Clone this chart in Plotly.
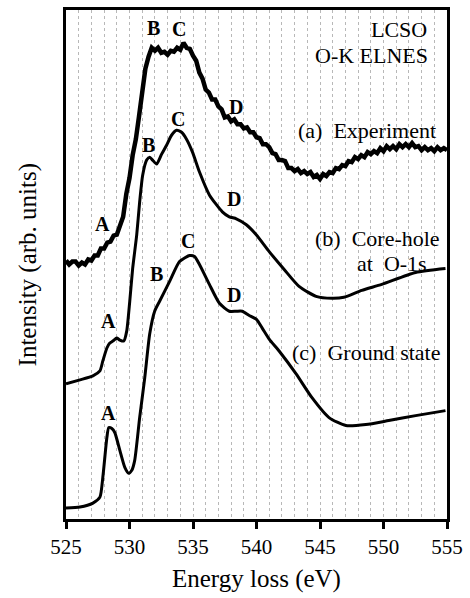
import plotly.graph_objects as go

# ---------------- data ----------------
# (a) Experiment (noisy spectrum), energy in eV, intensity in arb. units
exp_energy = [
    525.00, 525.25, 525.50, 525.75, 526.00, 526.25, 526.50, 526.75, 527.00, 527.25,
    527.50, 527.75, 528.00, 528.25, 528.50, 528.75, 529.00, 529.25, 529.50, 529.75,
    530.00, 530.25, 530.50, 530.75, 531.00, 531.25, 531.50, 531.75, 532.00, 532.25,
    532.50, 532.75, 533.00, 533.25, 533.50, 533.75, 534.00, 534.25, 534.50, 534.75,
    535.00, 535.25, 535.50, 535.75, 536.00, 536.25, 536.50, 536.75, 537.00, 537.25,
    537.50, 537.75, 538.00, 538.25, 538.50, 538.75, 539.00, 539.25, 539.50, 539.75,
    540.00, 540.25, 540.50, 540.75, 541.00, 541.25, 541.50, 541.75, 542.00, 542.25,
    542.50, 542.75, 543.00, 543.25, 543.50, 543.75, 544.00, 544.25, 544.50, 544.75,
    545.00, 545.25, 545.50, 545.75, 546.00, 546.25, 546.50, 546.75, 547.00, 547.25,
    547.50, 547.75, 548.00, 548.25, 548.50, 548.75, 549.00, 549.25, 549.50, 549.75,
    550.00, 550.25, 550.50, 550.75, 551.00, 551.25, 551.50, 551.75, 552.00, 552.25,
    552.50, 552.75, 553.00, 553.25, 553.50, 553.75, 554.00, 554.25, 554.50, 554.75,
    555.00,
]
exp_intensity = [
    260, 256, 259, 259, 255, 258, 256, 261, 260, 265,
    265, 272, 272, 278, 279, 285, 286, 294, 304, 327,
    343, 366, 382, 405, 428, 453, 465, 474, 471, 474,
    469, 470, 467, 471, 470, 474, 472, 479, 474, 473,
    466, 461, 449, 443, 432, 429, 422, 422, 415, 412,
    404, 405, 400, 402, 397, 397, 393, 394, 389, 389,
    384, 383, 377, 377, 374, 368, 367, 361, 361, 360,
    353, 353, 350, 352, 348, 350, 347, 349, 344, 346,
    342, 347, 345, 349, 348, 353, 352, 356, 355, 360,
    359, 364, 362, 366, 364, 369, 367, 370, 368, 373,
    370, 375, 372, 375, 372, 377, 374, 377, 374, 378,
    374, 375, 371, 374, 371, 373, 370, 374, 371, 373,
    371,
]

# (b) Core-hole at O-1s
core_energy = [
    525.0, 526.1, 527.12, 527.67, 527.9, 528.22, 528.45, 528.69, 529.0, 529.24,
    529.55, 529.78, 530.02, 530.25, 530.57, 530.8, 531.04, 531.35, 531.59, 531.82,
    532.14, 532.53, 532.92, 533.31, 533.71, 534.1, 534.49, 534.96, 535.51, 536.29,
    537.31, 537.86, 538.41, 539.2, 539.98, 541.0, 542.18, 543.35, 544.69, 545.94,
    546.88, 548.29, 549.86, 552.53, 554.88,
]
core_intensity = [
    136, 140, 144, 149, 159, 172, 177, 179, 182, 180,
    179, 189, 219, 252, 286, 319, 346, 361, 364, 361,
    357, 367, 376, 386, 391, 389, 382, 369, 349, 326,
    309, 304, 302, 296, 286, 269, 251, 234, 224, 222,
    223, 230, 236, 248, 252,
]

# (c) Ground state
ground_energy = [
    525.0, 526.1, 527.12, 527.67, 527.9, 528.22, 528.37, 528.61, 528.84, 529.24,
    529.63, 529.94, 530.18, 530.41, 530.8, 531.2, 531.59, 531.98, 532.37, 533.16,
    533.94, 534.73, 535.12, 535.51, 536.29, 537.08, 537.86, 538.41, 538.88, 539.4,
    539.98, 540.45, 541.0, 541.78, 543.12, 544.37, 545.71, 547.04, 548.61, 550.41,
    552.53, 554.88,
]
ground_intensity = [
    11, 12, 16, 22, 42, 82, 92, 91, 87, 69,
    52, 46, 49, 59, 102, 142, 186, 209, 219, 239,
    259, 265, 264, 256, 236, 217, 209, 209, 209, 205,
    201, 192, 181, 169, 146, 122, 102, 94, 95, 99,
    104, 109,
]

# peak labels: (letter, energy, intensity)
peak_letters = ["A", "B", "C", "D",
                "A", "B", "C", "D",
                "A", "B", "C", "D"]
peak_energy = [527.9, 531.9, 533.86, 538.41,
               528.37, 531.5, 533.78, 538.25,
               528.37, 532.14, 534.57, 538.25]
peak_intensity = [297, 494, 493, 414,
                  199, 376, 402, 322,
                  107, 246, 280, 225]

# right-side texts: (text, energy of right edge, intensity)
side_text = ["LCSO", "O-K ELNES", "(a)  Experiment", "(b)  Core-hole", "at  O-1s", "(c)  Ground state"]
side_energy = [553.55, 553.7, 554.33, 554.57, 553.55, 554.57]
side_intensity = [492, 466, 391, 282, 257, 167]

x_ticks = [525, 530, 535, 540, 545, 550, 555]

# ---------------- figure ----------------
FONT = "Liberation Serif"

fig = go.Figure()
fig.add_trace(go.Scatter(x=exp_energy, y=exp_intensity, mode="lines",
                         line=dict(color="black", width=4.5), showlegend=False))
fig.add_trace(go.Scatter(x=core_energy, y=core_intensity, mode="lines",
                         line=dict(color="black", width=3, shape="spline", smoothing=0.6),
                         showlegend=False))
fig.add_trace(go.Scatter(x=ground_energy, y=ground_intensity, mode="lines",
                         line=dict(color="black", width=3, shape="spline", smoothing=0.6),
                         showlegend=False))

annotations = []
for t, xe, yi in zip(peak_letters, peak_energy, peak_intensity):
    annotations.append(dict(x=xe, y=yi, xref="x", yref="y", text="<b>%s</b>" % t,
                            showarrow=False, font=dict(family=FONT, size=20, color="black"),
                            xanchor="center", yanchor="middle"))
for t, xe, yi in zip(side_text, side_energy, side_intensity):
    annotations.append(dict(x=xe, y=yi, xref="x", yref="y", text=t.replace("  ", "&nbsp;&nbsp;"),
                            showarrow=False, font=dict(family=FONT, size=22, color="black"),
                            xanchor="right", yanchor="middle"))
# axis titles
annotations.append(dict(x=0.5, y=-0.118, xref="paper", yref="paper", text="Energy loss (eV)",
                        showarrow=False, font=dict(family=FONT, size=25, color="black"),
                        xanchor="center", yanchor="middle"))
annotations.append(dict(x=-0.1, y=0.5, xref="paper", yref="paper", text="Intensity (arb. units)",
                        showarrow=False, textangle=-90, font=dict(family=FONT, size=25, color="black"),
                        xanchor="center", yanchor="middle"))

fig.update_layout(
    width=470, height=598,
    margin=dict(l=66, r=22, t=7, b=79),
    paper_bgcolor="white", plot_bgcolor="white",
    font=dict(family=FONT, color="black"),
    annotations=annotations,
    xaxis=dict(range=[525, 555], tickvals=x_ticks, ticktext=[str(v) for v in x_ticks],
               tickfont=dict(family=FONT, size=21, color="black"),
               ticks="outside", ticklen=7, tickwidth=3, tickcolor="black",
               showline=True, linewidth=3, linecolor="black", mirror=True,
               showgrid=True, gridcolor="#b8b8b8", gridwidth=1, griddash="dot",
               minor=dict(dtick=1, tick0=525, showgrid=True, gridcolor="#b8b8b8",
                          gridwidth=1, griddash="dot", ticks=""),
               zeroline=False),
    yaxis=dict(range=[0, 512], showticklabels=False, ticks="", showgrid=False,
               showline=True, linewidth=3, linecolor="black", mirror=True, zeroline=False),
)

fig.write_html("out.html")
